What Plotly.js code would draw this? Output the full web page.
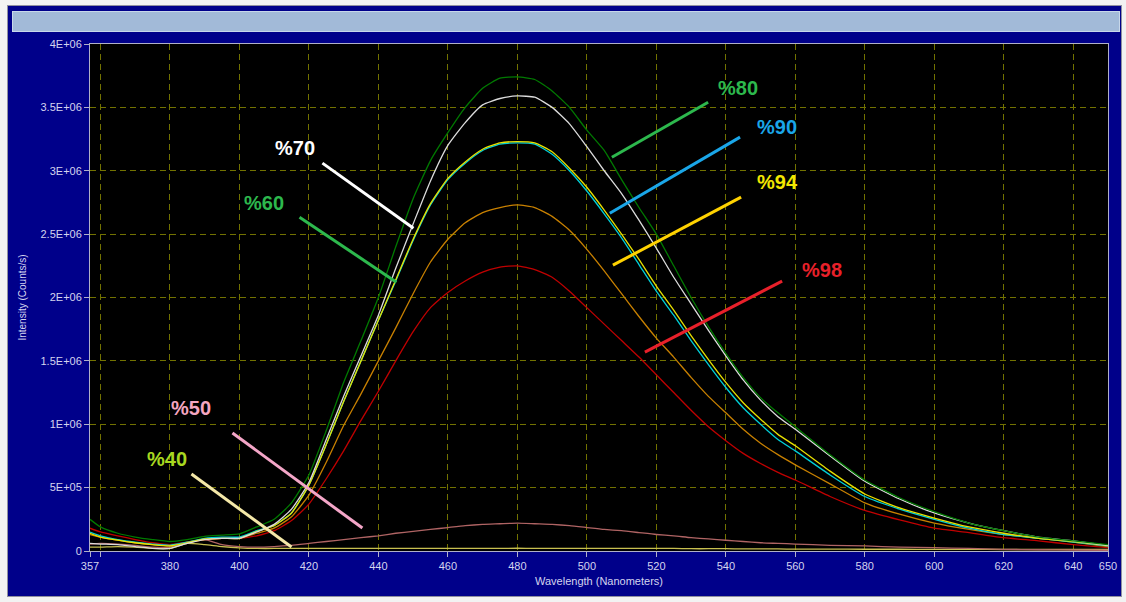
<!DOCTYPE html>
<html>
<head>
<meta charset="utf-8">
<script src="https://cdn.plot.ly/plotly-3.0.1.min.js"></script>
<style>
  html, body { margin: 0; padding: 0; background: #f2f2f2; }
  #frame { position: absolute; left: 7px; top: 5px; width: 1115px; height: 592px; background: #00008a; border: 1px solid #9090a0; box-sizing: border-box; }
  #bar { position: absolute; left: 12px; top: 11px; width: 1108px; height: 21px; background: #a2bad8; border: 1px solid #c8d8ea; box-sizing: border-box; }
  #chart { position: absolute; left: 0; top: 0; width: 1126px; height: 602px; }
</style>
</head>
<body>
<div id="frame"></div>
<div id="bar"></div>
<div id="chart"></div>
<script>
// Wavelength (nm)
const wavelengths = [357,360,365,370,375,380,385,390,395,400,405,410,415,420,425,430,435,440,445,450,455,460,465,470,475,480,485,490,495,500,505,510,515,520,525,530,535,540,545,550,555,560,570,580,590,600,610,620,630,640,650];

// Intensity in millions of counts/s
const s80 = [0.25,0.19,0.14,0.11,0.09,0.075,0.09,0.115,0.125,0.135,0.19,0.25,0.38,0.6,0.95,1.33,1.66,2.0,2.4,2.78,3.08,3.3,3.5,3.65,3.73,3.74,3.72,3.63,3.5,3.32,3.16,2.93,2.71,2.5,2.25,2.0,1.77,1.56,1.37,1.21,1.09,0.98,0.76,0.56,0.42,0.31,0.22,0.16,0.11,0.08,0.05];
const s70 = [0.06,0.055,0.05,0.035,0.02,0.02,0.06,0.09,0.1,0.1,0.15,0.21,0.33,0.54,0.88,1.22,1.54,1.86,2.23,2.58,2.92,3.2,3.38,3.52,3.57,3.59,3.58,3.5,3.37,3.19,3.0,2.82,2.61,2.39,2.16,1.95,1.74,1.54,1.35,1.19,1.06,0.96,0.75,0.55,0.41,0.3,0.22,0.16,0.11,0.08,0.045];
const s90 = [0.15,0.12,0.09,0.07,0.055,0.045,0.07,0.1,0.11,0.11,0.16,0.2,0.3,0.52,0.84,1.18,1.5,1.82,2.13,2.45,2.73,2.93,3.06,3.16,3.21,3.22,3.21,3.13,3.0,2.84,2.66,2.47,2.26,2.05,1.86,1.66,1.47,1.29,1.13,1.0,0.88,0.79,0.6,0.43,0.33,0.25,0.18,0.13,0.1,0.07,0.04];
const s94 = [0.14,0.11,0.085,0.065,0.05,0.04,0.065,0.095,0.1,0.1,0.155,0.2,0.3,0.52,0.84,1.18,1.5,1.82,2.14,2.46,2.74,2.94,3.07,3.17,3.22,3.23,3.22,3.15,3.02,2.87,2.69,2.5,2.3,2.09,1.9,1.7,1.51,1.33,1.17,1.04,0.92,0.83,0.63,0.45,0.34,0.26,0.19,0.14,0.1,0.075,0.045];
const s60 = [0.13,0.11,0.085,0.065,0.05,0.04,0.065,0.09,0.1,0.1,0.14,0.18,0.27,0.44,0.7,0.99,1.24,1.5,1.76,2.03,2.28,2.46,2.59,2.67,2.71,2.73,2.71,2.64,2.53,2.38,2.21,2.03,1.85,1.68,1.53,1.37,1.22,1.09,0.96,0.85,0.76,0.68,0.53,0.38,0.29,0.22,0.17,0.13,0.1,0.07,0.035];
const s98 = [0.18,0.15,0.12,0.09,0.065,0.05,0.07,0.09,0.1,0.1,0.12,0.16,0.24,0.37,0.57,0.79,1.03,1.26,1.5,1.73,1.92,2.04,2.13,2.2,2.24,2.25,2.22,2.16,2.05,1.92,1.79,1.66,1.53,1.39,1.25,1.11,0.98,0.87,0.77,0.69,0.62,0.56,0.43,0.32,0.245,0.18,0.145,0.105,0.08,0.05,0.026];
const s50 = [0.055,0.06,0.055,0.045,0.03,0.03,0.07,0.09,0.05,0.035,0.03,0.035,0.045,0.06,0.075,0.09,0.105,0.12,0.14,0.155,0.17,0.185,0.2,0.21,0.215,0.22,0.215,0.21,0.2,0.185,0.17,0.16,0.145,0.13,0.12,0.105,0.095,0.085,0.075,0.065,0.06,0.055,0.045,0.04,0.03,0.026,0.02,0.013,0.01,0.008,0.006];
const s40 = [0.03,0.03,0.035,0.03,0.02,0.02,0.06,0.05,0.035,0.025,0.02,0.02,0.02,0.02,0.02,0.02,0.02,0.02,0.02,0.02,0.02,0.02,0.02,0.02,0.02,0.022,0.02,0.02,0.02,0.02,0.02,0.02,0.02,0.02,0.02,0.018,0.018,0.018,0.017,0.016,0.016,0.015,0.015,0.014,0.014,0.013,0.013,0.012,0.012,0.012,0.012];

const seriesNames  = ['%40','%50','%98','%60','%90','%94','%70','%80'];
const seriesData   = [s40, s50, s98, s60, s90, s94, s70, s80];
const seriesColors = ['#c8c050','#b06464','#c00000','#c88000','#00d0d8','#e8e000','#dcdcdc','#007a00'];

// Callout labels (position in wavelength / intensity, millions)
const labelText   = ['%80','%90','%94','%98','%70','%60','%50','%40'];
const labelWl     = [543.5,554.8,555.0,567.7,415.9,407.2,386.2,379.3];
const labelInt    = [3.65,3.344,2.91,2.216,3.178,2.744,1.128,0.726];
const labelColors = ['#2db84d','#1aa6e8','#f2e600','#e8202a','#ffffff','#2db84d','#f4a6c0','#a8d820'];
const lineWl0  = [507.2,506.6,507.5,516.7,423.9,417.3,398.0,386.2];
const lineInt0 = [3.107,2.665,2.255,1.569,3.06,2.634,0.931,0.607];
const lineWl1  = [534.9,544.1,544.4,556.2,450.1,445.2,435.4,415.0];
const lineInt1 = [3.541,3.265,2.792,2.129,2.547,2.121,0.181,0.032];
const lineColors = ['#2db84d','#1aa6e8','#ffd200','#e8202a','#ffffff','#2db84d','#f4a6c8','#f4e8a8'];

const xTickVals = [357,360,380,400,420,440,460,480,500,520,540,560,580,600,620,640,650];
const xTickText = ['357','','380','400','420','440','460','480','500','520','540','560','580','600','620','640','650'];
const yTickVals = [0,0.5e6,1e6,1.5e6,2e6,2.5e6,3e6,3.5e6,4e6];
const yTickText = ['0','5E+05','1E+06','1.5E+06','2E+06','2.5E+06','3E+06','3.5E+06','4E+06'];

const traces = seriesData.map((d, i) => ({
  type: 'scatter', mode: 'lines', name: seriesNames[i],
  x: wavelengths, y: d.map(v => v * 1e6),
  line: { color: seriesColors[i], width: 1.3, shape: 'spline', smoothing: 0.5 },
  hoverinfo: 'skip'
}));

const shapes = labelText.map((t, i) => ({
  type: 'line', xref: 'x', yref: 'y',
  x0: lineWl0[i], y0: lineInt0[i] * 1e6, x1: lineWl1[i], y1: lineInt1[i] * 1e6,
  line: { color: lineColors[i], width: 3 }
}));

const annotations = labelText.map((t, i) => ({
  xref: 'x', yref: 'y', x: labelWl[i], y: labelInt[i] * 1e6,
  text: '<b>' + t + '</b>', showarrow: false,
  font: { family: 'Liberation Sans, Arial, sans-serif', size: 20, color: labelColors[i] }
}));

const tickFont = { family: 'Liberation Sans, Arial, sans-serif', size: 11, color: '#d4d4ee' };

const layout = {
  width: 1126, height: 602, autosize: false,
  paper_bgcolor: 'rgba(0,0,0,0)', plot_bgcolor: '#000000',
  margin: { l: 90, r: 18, t: 44, b: 51 },
  showlegend: false,
  xaxis: {
    range: [357, 650], tickmode: 'array', tickvals: xTickVals, ticktext: xTickText,
    ticks: 'outside', ticklen: 5, tickcolor: '#b0b0c8', tickfont: tickFont,
    showline: true, linecolor: '#b0b0c8', linewidth: 1, mirror: true,
    showgrid: true, gridcolor: '#727200', gridwidth: 1, griddash: '6px,4px',
    zeroline: false,
    title: { text: 'Wavelength (Nanometers)', font: { family: 'Liberation Sans, Arial, sans-serif', size: 11, color: '#d4d4ee' }, standoff: 6 }
  },
  yaxis: {
    range: [0, 4e6], tickmode: 'array', tickvals: yTickVals, ticktext: yTickText,
    ticks: 'outside', ticklen: 5, tickcolor: '#b0b0c8', tickfont: tickFont,
    showline: true, linecolor: '#b0b0c8', linewidth: 1, mirror: true,
    showgrid: true, gridcolor: '#727200', gridwidth: 1, griddash: '6px,4px',
    zeroline: false,
    title: { text: 'Intensity (Counts/s)', font: { family: 'Liberation Sans, Arial, sans-serif', size: 10, color: '#d4d4ee' }, standoff: 12 }
  },
  shapes: shapes,
  annotations: annotations
};

Plotly.newPlot('chart', traces, layout, { displayModeBar: false, staticPlot: true });
</script>
</body>
</html>
